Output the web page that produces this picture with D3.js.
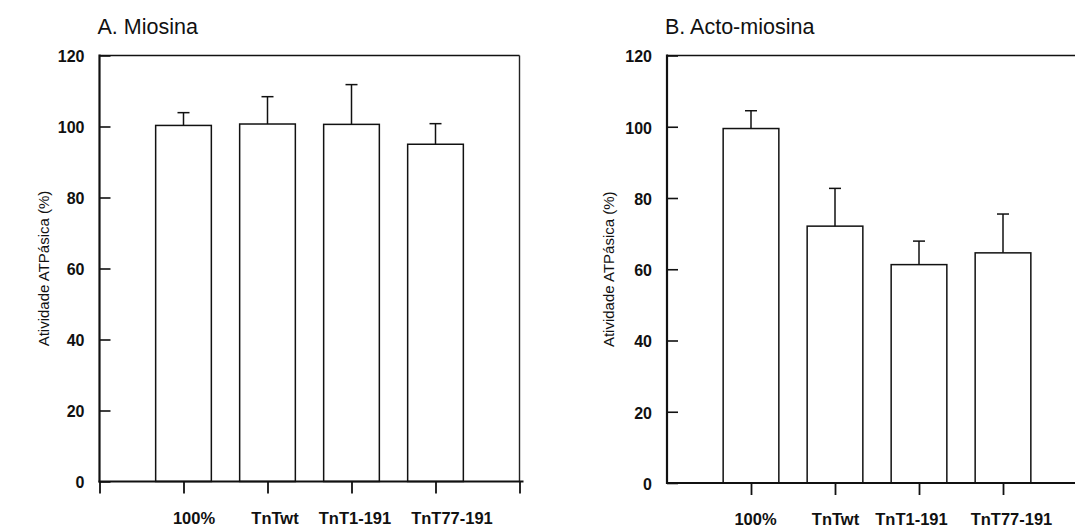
<!DOCTYPE html>
<html><head><meta charset="utf-8">
<script src="https://cdn.jsdelivr.net/npm/d3@7"></script>
<style>body{margin:0;background:#fff} svg{display:block}</style>
</head><body><svg id="chart" width="1075" height="527"></svg>
<script>
// ---- data ----
const categories = ["100%", "TnTwt", "TnT1-191", "TnT77-191"];
const miosinaValues = [100.3, 100.7, 100.6, 95.0];
const miosinaErrors = [3.6, 7.7, 11.2, 5.8];
const actoValues = [99.5, 72.1, 61.3, 64.6];
const actoErrors = [5.0, 10.6, 6.6, 10.9];
const yTicks = [0, 20, 40, 60, 80, 100, 120];
const panelTitles = ["A. Miosina", "B. Acto-miosina"];
const yAxisTitle = "Atividade ATPásica (%)";

// ---- layout ----
const FONT = "Liberation Sans, Arial, sans-serif";
const svg = d3.select("#chart");
const panels = [
  {title: panelTitles[0], values: miosinaValues, errors: miosinaErrors, left: 99.5, top: 55.5, bottom: 481.5, width: 420, yLabelX: 49, firstTick: 0, labelNudge: [10, 7, 3, 16]},
  {title: panelTitles[1], values: actoValues, errors: actoErrors, left: 667, top: 55.5, bottom: 483, width: 420, yLabelX: 614, firstTick: 1, labelNudge: [4, 0, -8, 8]}
];
const barUnits = 0.663;
const capHalf = 6;

panels.forEach(p => {
  const g = svg.append("g");
  const x = d3.scaleLinear().domain([0, 5]).range([p.left, p.left + p.width]);
  const y = d3.scaleLinear().domain([0, 120]).range([p.bottom, p.top]);
  const bw = x(barUnits) - x(0);
  const data = categories.map((c, i) => ({c, i, v: p.values[i], e: p.errors[i]}));

  // frame (top and right)
  g.append("line").attr("x1", x(0)).attr("x2", x(5)).attr("y1", y(120)).attr("y2", y(120))
    .attr("stroke", "#111").attr("stroke-width", 1.6);
  g.append("line").attr("x1", x(5)).attr("x2", x(5)).attr("y1", y(120)).attr("y2", y(0))
    .attr("stroke", "#222").attr("stroke-width", 1.4);

  // bars
  g.selectAll("rect.bar").data(data).enter().append("rect")
    .attr("x", d => x(d.i + 1) - bw / 2).attr("width", bw)
    .attr("y", d => y(d.v)).attr("height", d => y(0) - y(d.v))
    .attr("fill", "#fff").attr("stroke", "#111").attr("stroke-width", 1.5);

  // error bars
  g.selectAll("line.err").data(data).enter().append("line")
    .attr("x1", d => x(d.i + 1)).attr("x2", d => x(d.i + 1))
    .attr("y1", d => y(d.v)).attr("y2", d => y(d.v + d.e))
    .attr("stroke", "#111").attr("stroke-width", 1.5);
  g.selectAll("line.cap").data(data).enter().append("line")
    .attr("x1", d => x(d.i + 1) - capHalf).attr("x2", d => x(d.i + 1) + capHalf)
    .attr("y1", d => y(d.v + d.e)).attr("y2", d => y(d.v + d.e))
    .attr("stroke", "#111").attr("stroke-width", 1.5);

  // y axis (ticks inward)
  const yAxis = d3.axisLeft(y).tickValues(yTicks).tickSizeInner(-11).tickSizeOuter(0).tickPadding(15);
  const ya = g.append("g").attr("transform", `translate(${x(0)},0)`).call(yAxis);
  ya.select(".domain").remove();
  ya.selectAll(".tick line").attr("stroke", "#111").attr("stroke-width", 1.6);
  ya.selectAll(".tick text").attr("font-family", FONT).attr("font-weight", "bold")
    .attr("font-size", 16).attr("fill", "#111").attr("dy", "0.4em");
  g.append("line").attr("x1", x(0)).attr("x2", x(0)).attr("y1", y(120) - 1).attr("y2", y(0) + 1)
    .attr("stroke", "#111").attr("stroke-width", 2.2);

  // x axis (ticks downward)
  const xt = d3.range(p.firstTick, 6);
  const xAxis = d3.axisBottom(x).tickValues(xt).tickSizeInner(12).tickSizeOuter(0).tickPadding(18.5)
    .tickFormat(d => categories[d - 1] || "");
  const xa = g.append("g").attr("transform", `translate(0,${y(0)})`).call(xAxis);
  xa.select(".domain").remove();
  xa.selectAll(".tick line").attr("stroke", "#111").attr("stroke-width", 1.8);
  xa.selectAll(".tick text").attr("font-family", FONT).attr("font-weight", "bold")
    .attr("font-size", 16.5).attr("fill", "#111")
    .attr("dx", d => (d >= 1 && d <= 4) ? p.labelNudge[d - 1] : 0);
  g.append("line").attr("x1", x(0) - 1).attr("x2", x(5) + 4).attr("y1", y(0)).attr("y2", y(0))
    .attr("stroke", "#111").attr("stroke-width", 2.2);

  // title
  g.append("text").attr("x", x(0) - 2).attr("y", 34).text(p.title)
    .attr("font-family", FONT).attr("font-size", 21.5).attr("fill", "#111");

  // y label
  g.append("text").attr("transform", `translate(${p.yLabelX},${(y(0) + y(120)) / 2}) rotate(-90)`)
    .attr("text-anchor", "middle").text(yAxisTitle)
    .attr("font-family", FONT).attr("font-size", 15).attr("fill", "#111");
});
</script></body></html>
